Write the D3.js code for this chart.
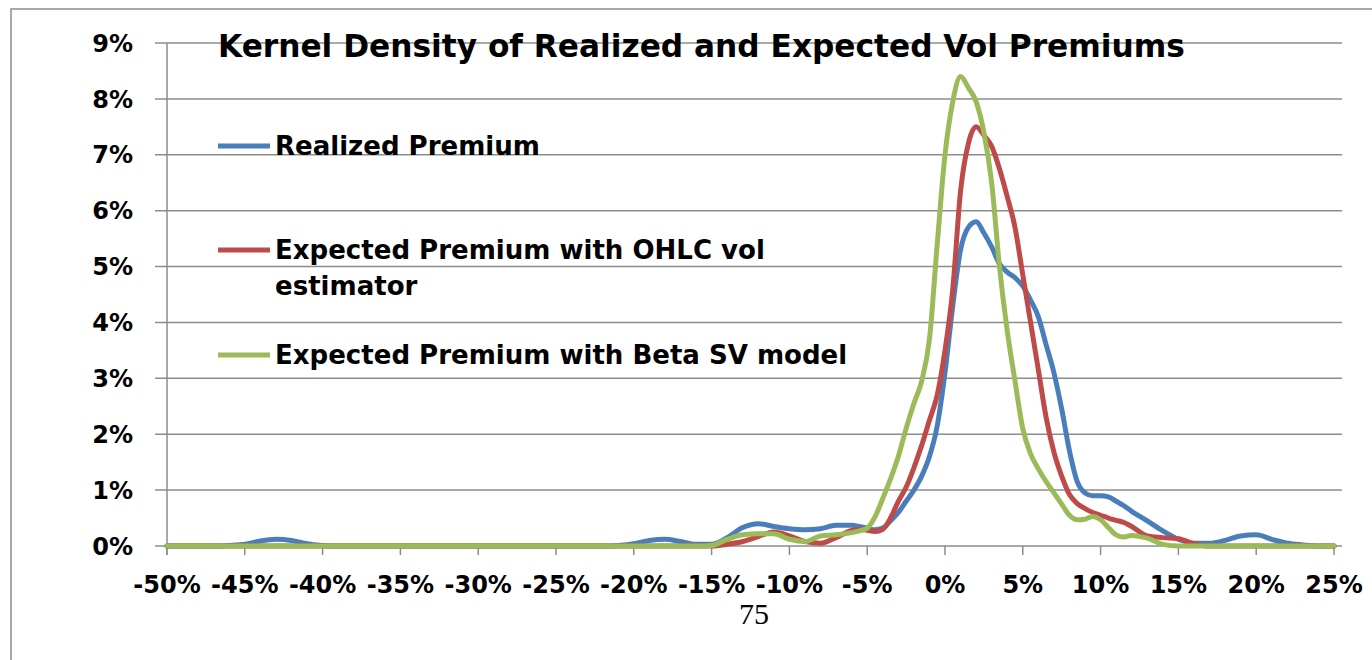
<!DOCTYPE html>
<html>
<head>
<meta charset="utf-8">
<script src="https://cdn.jsdelivr.net/npm/d3@7"></script>
<style>
html,body{margin:0;padding:0;background:#fff;}
svg{display:block;}
</style>
</head>
<body>
<svg id="chart" width="1372" height="660"></svg>
<script>
// ---- data ----
const xValues = [
  -50,-49,-48,-47,-46,-45,-44,-43,-42,-41,-40,-39,-38,-37,-36,-35,-34,-33,-32,-31,-30,
  -29,-28,-27,-26,-25,-24,-23,-22,-21,-20,-19,-18,-17,-16,-15,-14,-13,-12,-11,-10,-9,-8,-7,-6,
  -5.5,-5,-4.5,-4,-3.5,-3,-2.5,-2,-1.5,-1,-0.5,0,0.5,1,1.5,2,2.5,3,3.5,4,4.5,5,5.5,6,6.5,7,7.5,8,8.5,9,9.5,10,10.5,11,11.5,12,
  13,14,15,16,17,18,19,20,21,22,23,24,25
];
const realizedPremium = [
  0,0,0,0,0.01,0.03,0.09,0.12,0.1,0.04,0.01,
  0,0,0,0,0,0,0,0,0,0,0,0,0,0,0,0,0,0,
  0.01,0.04,0.1,0.12,0.08,0.03,0.03,0.15,0.33,0.4,0.35,0.31,0.29,0.31,0.37,0.37,
  0.35,0.32,0.29,0.32,0.45,0.6,0.8,1.0,1.25,1.6,
  2.15,3.1,4.3,5.3,5.7,5.8,5.6,5.35,5.05,4.9,
  4.8,4.65,4.4,4.1,3.6,3.1,2.45,1.7,1.15,0.95,
  0.9,0.9,0.88,0.8,0.72,0.62,
  0.45,0.27,0.12,0.05,0.05,0.1,0.18,0.2,0.12,0.05,0.02,0,0
];
const ohlcPremium = [
  0,0,0,0,0,0,0,0,0,0,0,0,0,0,0,0,0,0,0,0,0,0,0,0,0,0,0,0,0,0,0,0,0,0,0,
  0,0.03,0.08,0.17,0.25,0.18,0.08,0.05,0.15,0.28,
  0.3,0.28,0.26,0.3,0.5,0.8,1.05,1.4,1.8,2.25,
  2.7,3.5,4.6,6.35,7.2,7.5,7.35,7.15,6.75,6.25,
  5.7,4.85,4.0,3.15,2.3,1.68,1.25,0.92,0.76,0.67,
  0.6,0.55,0.5,0.46,0.42,0.35,
  0.18,0.15,0.13,0.04,0,0,0,0,0,0,0,0,0
];
const betaSVPremium = [
  0,0,0,0,0,0,0,0,0,0,0,0,0,0,0,0,0,0,0,0,0,0,0,0,0,0,0,0,0,0,0,0,0,0,0,
  0.01,0.12,0.2,0.22,0.22,0.12,0.08,0.18,0.2,0.24,
  0.27,0.32,0.52,0.85,1.2,1.6,2.1,2.55,2.95,3.7,
  5.4,7.0,7.95,8.4,8.2,7.95,7.4,6.5,5.0,3.85,
  2.95,2.1,1.65,1.38,1.15,0.95,0.75,0.55,0.47,0.48,
  0.53,0.47,0.33,0.2,0.16,0.19,
  0.14,0.03,0,0,0,0,0,0,0,0,0,0,0
];
const seriesNames = ["Realized Premium", "Expected Premium with OHLC vol", "Expected Premium with Beta SV model"];
const seriesColors = ["#4a7ebb", "#be4b48", "#9bbb59"];
const xTicks = [-50,-45,-40,-35,-30,-25,-20,-15,-10,-5,0,5,10,15,20,25];
const yTicks = [0,1,2,3,4,5,6,7,8,9];
const titleText = "Kernel Density of Realized and Expected Vol Premiums";
const pageNumber = "75";

// ---- drawing ----
const svg = d3.select("#chart");
const FONT = "'DejaVu Sans', Verdana, sans-serif";

// outer frame
svg.append("rect").attr("x", 11).attr("y", 9).attr("width", 1400).attr("height", 700)
  .attr("fill", "none").attr("stroke", "#8c8c8c").attr("stroke-width", 1.5);

const x = d3.scaleLinear().domain([-50, 25]).range([167, 1334]);
const y = d3.scaleLinear().domain([0, 9]).range([546, 43]);
const gridRight = 1342;

// gridlines
svg.append("g").selectAll("line").data(yTicks).join("line")
  .attr("x1", 155).attr("x2", gridRight)
  .attr("y1", d => y(d)).attr("y2", d => y(d))
  .attr("stroke", "#8c8c8c").attr("stroke-width", 1.5);

// y axis line
svg.append("line").attr("x1", x(-50)).attr("x2", x(-50)).attr("y1", y(9)).attr("y2", 555)
  .attr("stroke", "#8c8c8c").attr("stroke-width", 1.5);

// x ticks
svg.append("g").selectAll("line").data(xTicks).join("line")
  .attr("x1", d => x(d)).attr("x2", d => x(d)).attr("y1", 546).attr("y2", 555)
  .attr("stroke", "#8c8c8c").attr("stroke-width", 1.5);

// y labels
svg.append("g").selectAll("text").data(yTicks).join("text")
  .attr("x", 133).attr("y", d => y(d)).attr("dy", "0.36em")
  .attr("text-anchor", "end").attr("font-family", FONT).attr("font-weight", "bold")
  .attr("font-size", 24).attr("fill", "#000").text(d => d + "%");

// x labels
svg.append("g").selectAll("text").data(xTicks).join("text")
  .attr("x", d => x(d)).attr("y", 593)
  .attr("text-anchor", "middle").attr("font-family", FONT).attr("font-weight", "bold")
  .attr("font-size", 24).attr("fill", "#000").text(d => d + "%");

// series lines
const seriesData = [realizedPremium, ohlcPremium, betaSVPremium];
const line = d3.line().x((d, i) => x(xValues[i])).y(d => y(d)).curve(d3.curveMonotoneX);
seriesData.forEach((vals, k) => {
  svg.append("path").datum(vals).attr("d", line)
    .attr("fill", "none").attr("stroke", seriesColors[k]).attr("stroke-width", 5)
    .attr("stroke-linejoin", "round").attr("stroke-linecap", "round");
});

// title
const title = svg.append("text").attr("x", 218).attr("y", 57)
  .attr("font-family", FONT).attr("font-weight", "bold").attr("font-size", 28)
  .attr("fill", "#000").text(titleText);
const tw = title.node().getComputedTextLength();
title.attr("font-size", 28 * 967 / tw);

// legend
const legendY = [146, 250, 355];
const legendG = svg.append("g");
let legendSize = 24;
seriesNames.forEach((name, k) => {
  legendG.append("line").attr("x1", 218).attr("x2", 270)
    .attr("y1", legendY[k]).attr("y2", legendY[k])
    .attr("stroke", seriesColors[k]).attr("stroke-width", 5);
});
const l0 = legendG.append("text").attr("x", 275).attr("y", legendY[0]).attr("dy", "0.36em")
  .attr("font-family", FONT).attr("font-weight", "bold").attr("font-size", 24).text(seriesNames[0]);
legendSize = 24 * 265 / l0.node().getComputedTextLength();
l0.attr("font-size", legendSize);
legendG.append("text").attr("x", 275).attr("y", legendY[1]).attr("dy", "0.36em")
  .attr("font-family", FONT).attr("font-weight", "bold").attr("font-size", legendSize).text("Expected Premium with OHLC vol");
legendG.append("text").attr("x", 275).attr("y", legendY[1] + 36).attr("dy", "0.36em")
  .attr("font-family", FONT).attr("font-weight", "bold").attr("font-size", legendSize).text("estimator");
legendG.append("text").attr("x", 275).attr("y", legendY[2]).attr("dy", "0.36em")
  .attr("font-family", FONT).attr("font-weight", "bold").attr("font-size", legendSize).text(seriesNames[2]);

// page number
svg.append("text").attr("x", 754).attr("y", 624).attr("text-anchor", "middle")
  .attr("font-family", "'Liberation Serif', 'DejaVu Serif', serif").attr("font-size", 30)
  .attr("fill", "#000").text(pageNumber);
</script>
</body>
</html>
